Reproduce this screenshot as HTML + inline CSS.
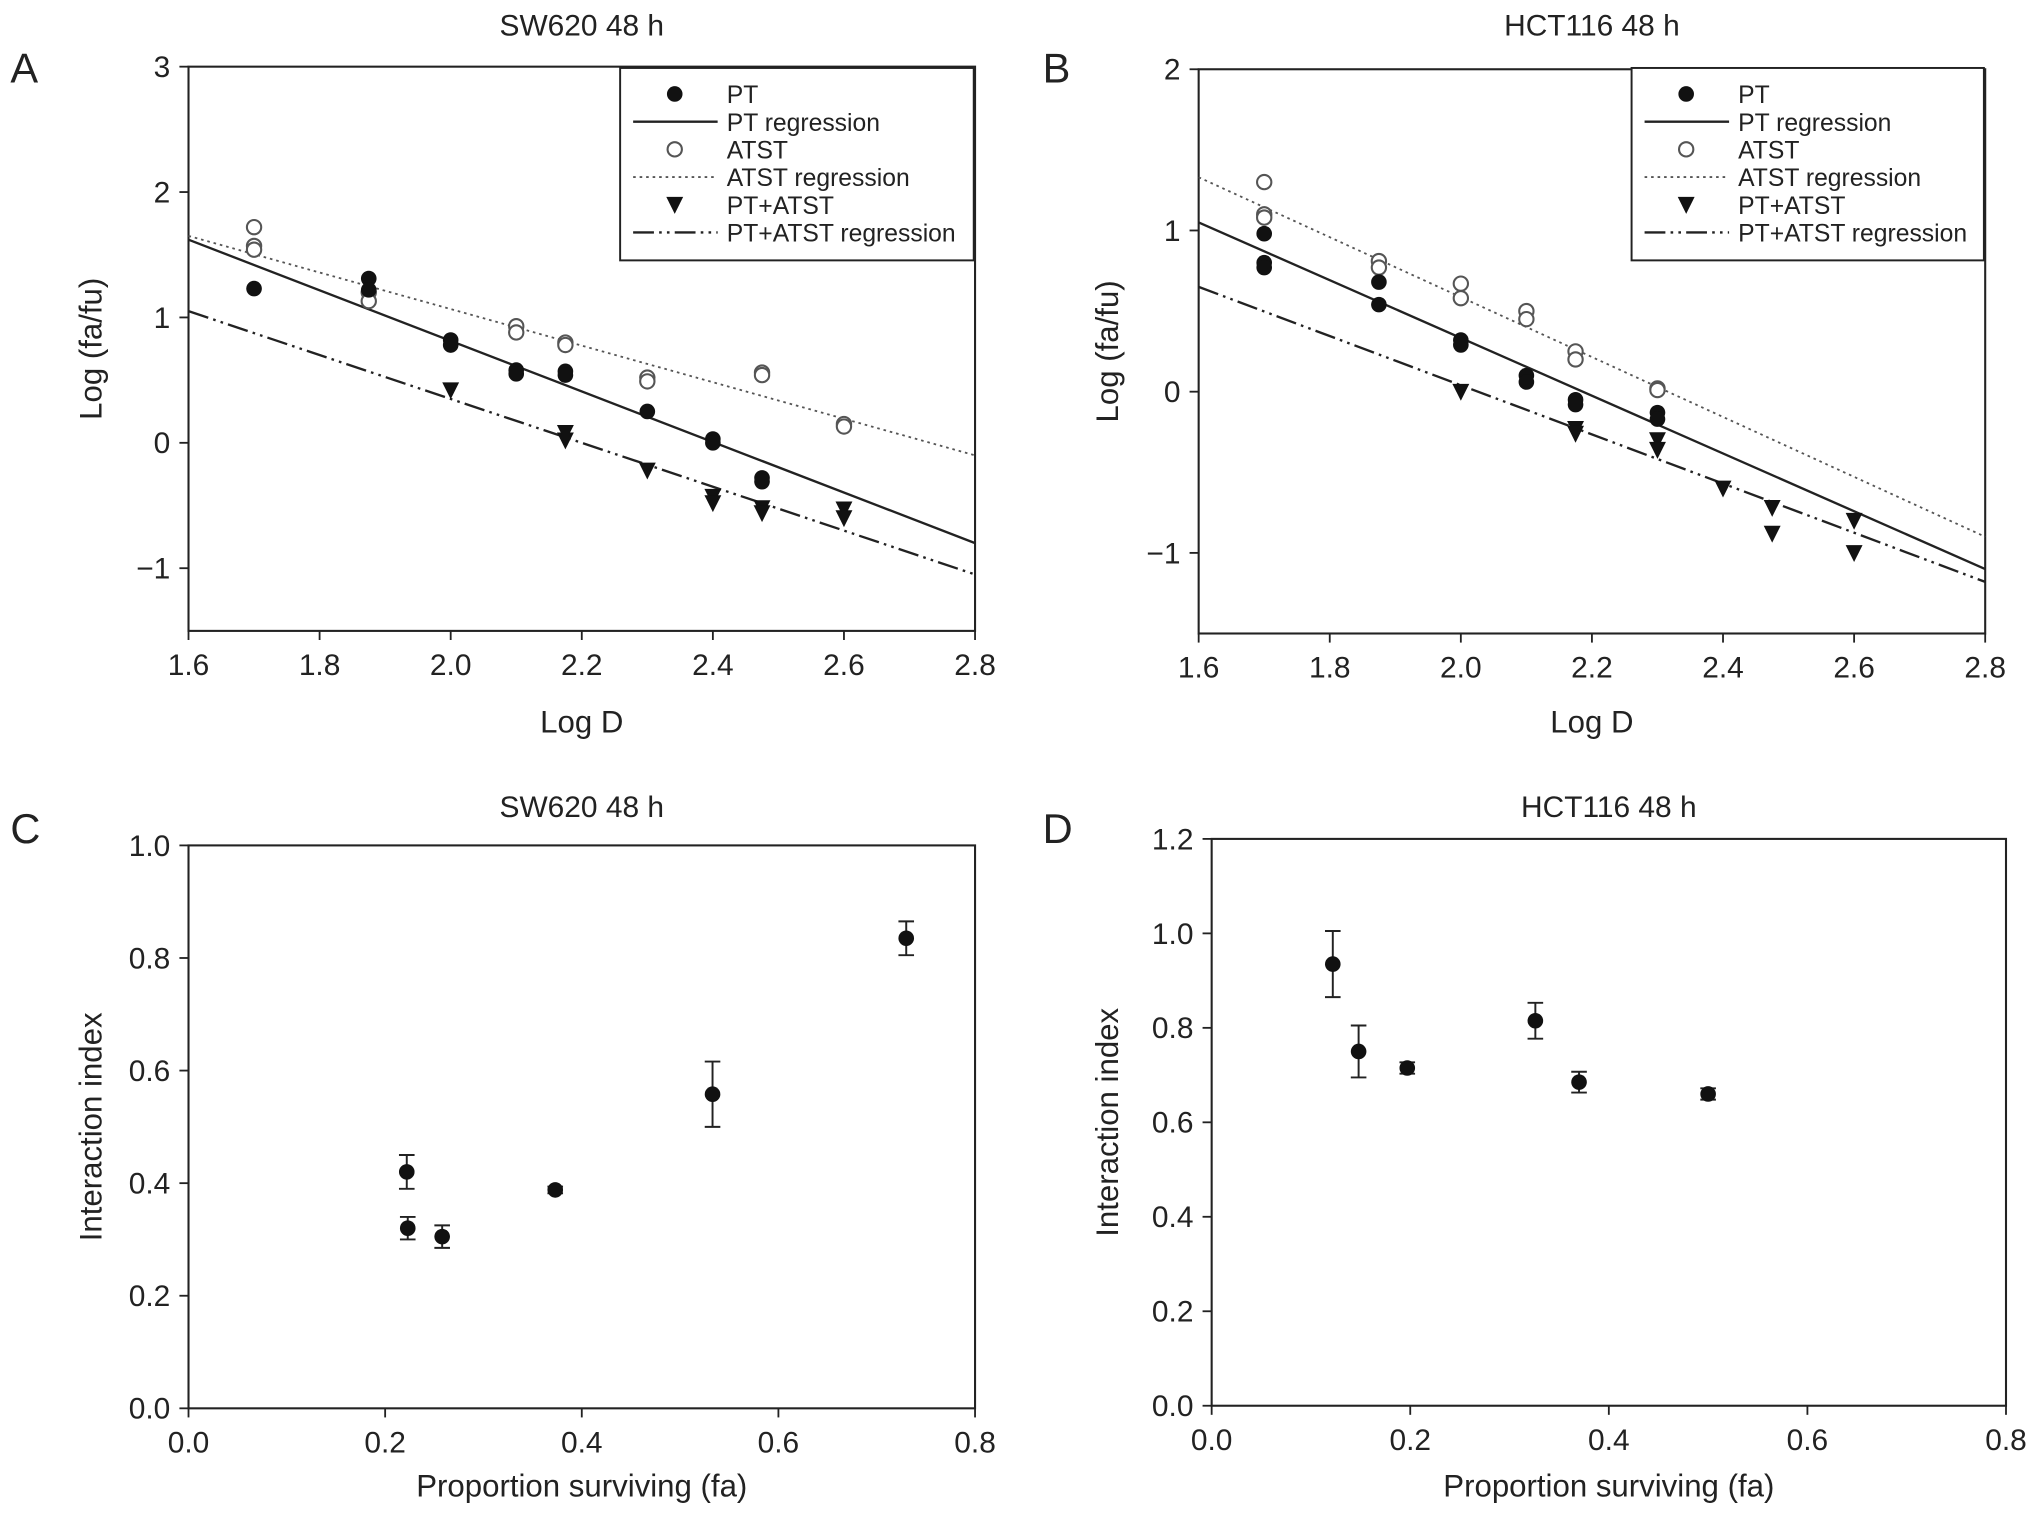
<!DOCTYPE html>
<html><head><meta charset="utf-8"><style>
html,body{margin:0;padding:0;background:#fff}
svg{display:block}
text{font-family:"Liberation Sans",Arial,sans-serif;fill:#222}
</style></head><body>
<svg id="fig" width="2032" height="1514" viewBox="0 0 1563 1164" xmlns="http://www.w3.org/2000/svg"></svg>
<script>
// Panel A data (SW620 log-median effect)
const aPTx=[1.7,1.875,1.875,2.0,2.0,2.1,2.1,2.175,2.175,2.3,2.4,2.4,2.475,2.475];
const aPTy=[1.23,1.31,1.22,0.82,0.78,0.58,0.55,0.57,0.54,0.25,0.03,0.0,-0.28,-0.31];
const aATx=[1.7,1.7,1.7,1.875,1.875,2.1,2.1,2.175,2.175,2.3,2.3,2.475,2.475,2.6,2.6];
const aATy=[1.72,1.57,1.54,1.2,1.13,0.93,0.88,0.8,0.78,0.52,0.49,0.56,0.54,0.15,0.13];
const aCx=[2.0,2.175,2.175,2.3,2.4,2.4,2.475,2.475,2.6,2.6];
const aCy=[0.42,0.08,0.02,-0.22,-0.43,-0.48,-0.52,-0.56,-0.53,-0.6];
const aReg=[[1.6,1.62,2.8,-0.8],[1.6,1.65,2.8,-0.1],[1.6,1.05,2.8,-1.05]];
// Panel B data (HCT116)
const bPTx=[1.7,1.7,1.7,1.875,1.875,2.0,2.0,2.1,2.1,2.175,2.175,2.3,2.3];
const bPTy=[0.98,0.8,0.77,0.68,0.54,0.32,0.29,0.1,0.06,-0.05,-0.08,-0.13,-0.17];
const bATx=[1.7,1.7,1.7,1.875,1.875,2.0,2.0,2.1,2.1,2.175,2.175,2.3,2.3];
const bATy=[1.3,1.1,1.08,0.81,0.77,0.67,0.58,0.5,0.45,0.25,0.2,0.02,0.01];
const bCx=[2.0,2.175,2.175,2.3,2.3,2.4,2.475,2.475,2.6,2.6];
const bCy=[0.0,-0.23,-0.26,-0.3,-0.36,-0.6,-0.72,-0.88,-0.8,-1.0];
const bReg=[[1.6,1.05,2.8,-1.1],[1.6,1.33,2.8,-0.9],[1.6,0.65,2.8,-1.18]];
// Panel C/D data
const cX=[0.222,0.223,0.258,0.373,0.533,0.73];
const cY=[0.42,0.32,0.305,0.388,0.558,0.835];
const cE=[0.03,0.02,0.02,0.006,0.058,0.03];
const dX=[0.122,0.148,0.197,0.326,0.37,0.5];
const dY=[0.935,0.75,0.715,0.815,0.685,0.66];
const dE=[0.07,0.055,0.012,0.038,0.022,0.012];
const logTicks=['1.6','1.8','2.0','2.2','2.4','2.6','2.8'];
const aYTicks=['3','2','1','0','−1'];
const bYTicks=['2','1','0','−1'];
const faTicks=['0.0','0.2','0.4','0.6','0.8'];
const cYTicks=['0.0','0.2','0.4','0.6','0.8','1.0'];
const dYTicks=['0.0','0.2','0.4','0.6','0.8','1.0','1.2'];

const svg=document.getElementById('fig');
const NS='http://www.w3.org/2000/svg';
function el(tag,attrs,parent){const e=document.createElementNS(NS,tag);for(const k in attrs)e.setAttribute(k,attrs[k]);(parent||svg).appendChild(e);return e;}
function txt(s,x,y,size,anchor,parent,rot){const t=el('text',{x:x,y:y,'font-size':size,'text-anchor':anchor||'middle'},parent);if(rot)t.setAttribute('transform',`rotate(-90 ${x} ${y})`);t.textContent=s;return t;}
function num(s){return parseFloat(s.replace('−','-'));}

function panel(o){
  const g=el('g',{});
  
  
  const sx=v=>o.x0+(v-o.xmin)/(o.xmax-o.xmin)*(o.x1-o.x0);
  const sy=v=>o.y1-(v-o.ymin)/(o.ymax-o.ymin)*(o.y1-o.y0);
  el('rect',{x:o.x0,y:o.y0,width:o.x1-o.x0,height:o.y1-o.y0,fill:'none',stroke:'#222','stroke-width':1.6},g);
  o.xt.forEach(s=>{const v=num(s),X=sx(v);el('line',{x1:X,x2:X,y1:o.y1,y2:o.y1+7,stroke:'#222','stroke-width':1.4},g);const t=txt(s,X,o.y1+34,23,'middle',g);});
  o.yt.forEach(s=>{const v=num(s),Y=sy(v);el('line',{x1:o.x0-7,x2:o.x0,y1:Y,y2:Y,stroke:'#222','stroke-width':1.4},g);const t=txt(s,o.x0-14,Y+8,23,'end',g);});
  let t=txt(o.title,(o.x0+o.x1)/2,o.ty,23,'middle',g);
  t=txt(o.letter,o.lx,o.ly,32,'start',g);
  t=txt(o.xl,(o.x0+o.x1)/2,o.xly,24,'middle',g);
  t=txt(o.yl,o.ylx,(o.y0+o.y1)/2,24,'middle',g,true);
  return {g,sx,sy};
}
function dot(g,x,y){const c=el('circle',{cx:x,cy:y,r:6,fill:'#111'},g);}
function ring(g,x,y){const c=el('circle',{cx:x,cy:y,r:5.5,fill:'#fff',stroke:'#555','stroke-width':1.6},g);}
function tri(g,x,y){const p=el('polygon',{points:`${x-6.5},${y-6} ${x+6.5},${y-6} ${x},${y+7}`,fill:'#111'},g);}
const styles=[{d:'',w:1.8,c:'#222'},{d:'2 3',w:1.4,c:'#555'},{d:'16 4 2 4 2 4',w:1.8,c:'#222'}];
const regNames=['pt-regression','atst-regression','combo-regression'];

function logPanel(o,PTx,PTy,ATx,ATy,Cx,Cy,reg,lg){
  const p=panel(o);
  reg.forEach((r,i)=>{const l=el('line',{x1:p.sx(r[0]),y1:p.sy(r[1]),x2:p.sx(r[2]),y2:p.sy(r[3]),stroke:styles[i].c,'stroke-width':styles[i].w,'stroke-dasharray':styles[i].d},p.g);});
  ATx.forEach((v,i)=>ring(p.g,p.sx(v),p.sy(ATy[i])));
  PTx.forEach((v,i)=>dot(p.g,p.sx(v),p.sy(PTy[i])));
  Cx.forEach((v,i)=>tri(p.g,p.sx(v),p.sy(Cy[i])));
  const L=el('g',{},p.g);
  
  
  el('rect',{x:lg.x,y:lg.y,width:lg.w,height:148,fill:'#fff',stroke:'#222','stroke-width':1.5},L);
  const labels=['PT','PT regression','ATST','ATST regression','PT+ATST','PT+ATST regression'];
  labels.forEach((s,i)=>{const y=lg.y+20+i*21.3;const cx=lg.x+42;
    if(i==0)dot(L,cx,y);else if(i==2)ring(L,cx,y);else if(i==4)tri(L,cx,y);
    else{const k=(i-1)/2;el('line',{x1:lg.x+10,x2:lg.x+75,y1:y,y2:y,stroke:styles[k].c,'stroke-width':styles[k].w,'stroke-dasharray':styles[k].d},L);}
    const t=txt(s,lg.x+82,y+7,19,'start',L);});
}
logPanel({name:'panel-a',x0:145,x1:750,y0:51,y1:485,xmin:1.6,xmax:2.8,ymin:-1.5,ymax:3,xt:logTicks,yt:aYTicks,title:'SW620 48 h',ty:27,letter:'A',lx:8,ly:63,xl:'Log D',xly:563,yl:'Log (fa/fu)',ylx:78},aPTx,aPTy,aATx,aATy,aCx,aCy,aReg,{x:477,y:52,w:272});
logPanel({name:'panel-b',x0:922,x1:1527,y0:53,y1:487,xmin:1.6,xmax:2.8,ymin:-1.5,ymax:2,xt:logTicks,yt:bYTicks,title:'HCT116 48 h',ty:27,letter:'B',lx:802,ly:63,xl:'Log D',xly:563,yl:'Log (fa/fu)',ylx:860},bPTx,bPTy,bATx,bATy,bCx,bCy,bReg,{x:1255,y:52,w:271});

function errPanel(o,X,Y,E){
  const p=panel(o);
  X.forEach((v,i)=>{const x=p.sx(v),yt=p.sy(Y[i]+E[i]),yb=p.sy(Y[i]-E[i]);
    const b=el('path',{d:`M${x-6},${yt}H${x+6}M${x},${yt}V${yb}M${x-6},${yb}H${x+6}`,stroke:'#222','stroke-width':1.5,fill:'none'},p.g);
    
    dot(p.g,x,p.sy(Y[i]));});
}
errPanel({name:'panel-c',x0:145,x1:750,y0:650,y1:1083,xmin:0,xmax:0.8,ymin:0,ymax:1.0,xt:faTicks,yt:cYTicks,title:'SW620 48 h',ty:628,letter:'C',lx:8,ly:648,xl:'Proportion surviving (fa)',xly:1151,yl:'Interaction index',ylx:78},cX,cY,cE);
errPanel({name:'panel-d',x0:932,x1:1543,y0:645,y1:1081,xmin:0,xmax:0.8,ymin:0,ymax:1.2,xt:faTicks,yt:dYTicks,title:'HCT116 48 h',ty:628,letter:'D',lx:802,ly:648,xl:'Proportion surviving (fa)',xly:1151,yl:'Interaction index',ylx:860},dX,dY,dE);
</script>
</body></html>
